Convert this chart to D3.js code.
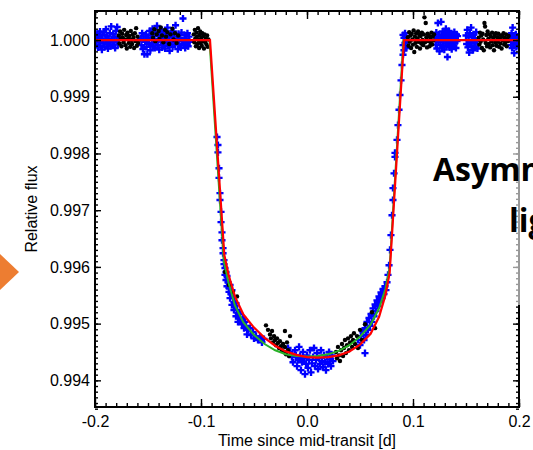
<!DOCTYPE html>
<html>
<head>
<meta charset="utf-8">
<script src="https://cdn.jsdelivr.net/npm/d3@7"></script>
<style>
  html, body { margin: 0; padding: 0; background: #fff; }
  svg { display: block; }
</style>
</head>
<body>
<svg id="chart" width="533" height="450"></svg>
<script>
// Transit photometry: two observing runs (black, blue) and two transit models.
const xTickLabels = ["-0.2", "-0.1", "0.0", "0.1", "0.2"];
const xTickValues = [-0.2, -0.1, 0.0, 0.1, 0.2];
const yTickLabels = ["0.994", "0.995", "0.996", "0.997", "0.998", "0.999", "1.000"];
const yTickValues = [0.994, 0.995, 0.996, 0.997, 0.998, 0.999, 1.000];

// [time since mid-transit (d), relative flux]
const bluePoints = [
  // before ingress
  [-0.1990,1.00004],[-0.1985,0.99992],[-0.1978,1.00011],[-0.1972,0.99987],[-0.1966,1.00006],
  [-0.1960,0.99997],[-0.1953,1.00015],[-0.1947,0.99990],[-0.1941,1.00002],[-0.1935,0.99983],
  [-0.1928,1.00009],[-0.1922,0.99995],[-0.1916,1.00013],[-0.1910,0.99988],[-0.1903,1.00000],
  [-0.1897,1.00019],[-0.1891,0.99993],[-0.1885,1.00007],[-0.1878,0.99985],[-0.1872,1.00003],
  [-0.1866,0.99996],[-0.1860,1.00012],[-0.1853,0.99989],[-0.1847,1.00024],[-0.1841,1.00001],
  [-0.1835,0.99991],[-0.1828,1.00010],[-0.1822,0.99997],[-0.1816,1.00006],[-0.1810,0.99986],
  [-0.1803,1.00016],[-0.1797,0.99999],[-0.1791,1.00023],[-0.1785,0.99992],[-0.1780,1.00005],
  [-0.1570,1.00003],[-0.1562,0.99991],[-0.1555,1.00012],[-0.1548,0.99984],[-0.1541,1.00006],
  [-0.1534,0.99975],[-0.1527,0.99997],[-0.1520,1.00010],[-0.1513,0.99988],[-0.1506,0.99975],
  [-0.1499,1.00004],[-0.1492,0.99993],[-0.1485,1.00016],[-0.1478,0.99982],[-0.1471,1.00008],
  [-0.1464,0.99995],[-0.1457,1.00020],[-0.1450,0.99989],[-0.1443,1.00002],[-0.1436,0.99986],
  [-0.1429,1.00013],[-0.1422,0.99997],[-0.1415,1.00025],[-0.1408,0.99991],[-0.1401,1.00007],
  [-0.1394,0.99983],[-0.1387,1.00011],[-0.1380,0.99999],[-0.1373,1.00018],[-0.1366,0.99987],
  [-0.1359,1.00004],[-0.1352,0.99994],[-0.1345,1.00014],[-0.1338,0.99985],[-0.1331,1.00009],
  [-0.1324,0.99998],[-0.1317,1.00022],[-0.1310,0.99990],[-0.1303,1.00005],[-0.1296,0.99981],
  [-0.1289,1.00012],[-0.1282,0.99996],[-0.1275,1.00008],[-0.1268,0.99988],[-0.1261,1.00015],
  [-0.1254,1.00001],[-0.1247,0.99992],[-0.1240,1.00026],[-0.1233,0.99997],[-0.1226,1.00006],
  [-0.1219,0.99984],[-0.1212,1.00011],[-0.1205,0.99993],[-0.1198,1.00004],[-0.1191,0.99987],
  [-0.1184,1.00013],[-0.1177,0.99998],[-0.1170,1.00038],[-0.1163,0.99991],[-0.1156,1.00009],
  [-0.1149,0.99986],[-0.1142,1.00003],[-0.1135,0.99995],[-0.1128,1.00012],[-0.1121,0.99989],
  [-0.1114,1.00006],[-0.1107,0.99997],
  // ingress
  [-0.0849,0.99829],[-0.0840,0.99815],[-0.0840,0.99802],[-0.0830,0.99774],[-0.0830,0.99757],
  [-0.0821,0.99730],[-0.0821,0.99718],[-0.0811,0.99697],[-0.0811,0.99679],[-0.0802,0.99661],
  [-0.0802,0.99647],[-0.0792,0.99633],[-0.0792,0.99624],[-0.0783,0.99612],[-0.0783,0.99605],
  [-0.0774,0.99598],[-0.0764,0.99591],[-0.0774,0.99586],[-0.0755,0.99584],[-0.0764,0.99577],
  [-0.0745,0.99573],[-0.0755,0.99566],[-0.0736,0.99563],[-0.0726,0.99568],[-0.0736,0.99556],
  [-0.0717,0.99552],[-0.0708,0.99559],[-0.0726,0.99545],[-0.0698,0.99545],[-0.0689,0.99538],
  [-0.0708,0.99533],[-0.0679,0.99531],[-0.0670,0.99536],[-0.0689,0.99524],[-0.0660,0.99524],
  [-0.0651,0.99519],[-0.0670,0.99513],[-0.0642,0.99510],[-0.0632,0.99517],[-0.0623,0.99506],
  [-0.0651,0.99503],[-0.0613,0.99499],[-0.0604,0.99510],[-0.0594,0.99492],[-0.0585,0.99503],
  [-0.0575,0.99496],[-0.0557,0.99489],[-0.0566,0.99481],[-0.0538,0.99492],[-0.0528,0.99480],
  [-0.0509,0.99485],[-0.0500,0.99474],[-0.0481,0.99478],[-0.0462,0.99471],[-0.0443,0.99476],
  [-0.0425,0.99467],[-0.0406,0.99473],
  // transit floor
  [-0.0179,0.99457],[-0.0160,0.99450],[-0.0142,0.99441],[-0.0132,0.99432],[-0.0113,0.99453],
  [-0.0104,0.99444],[-0.0094,0.99425],[-0.0085,0.99436],[-0.0075,0.99459],[-0.0066,0.99443],
  [-0.0057,0.99418],[-0.0047,0.99432],[-0.0038,0.99450],[-0.0028,0.99439],[-0.0019,0.99411],
  [-0.0009,0.99429],[0.0000,0.99444],[0.0009,0.99422],[0.0019,0.99436],[0.0028,0.99453],
  [0.0038,0.99414],[0.0047,0.99430],[0.0057,0.99441],[0.0066,0.99457],[0.0075,0.99425],
  [0.0085,0.99436],[0.0094,0.99448],[0.0104,0.99420],[0.0113,0.99439],[0.0123,0.99429],
  [0.0132,0.99453],[0.0142,0.99434],[0.0151,0.99423],[0.0160,0.99444],[0.0170,0.99432],
  [0.0179,0.99418],[0.0189,0.99441],[0.0198,0.99429],[0.0208,0.99450],[0.0217,0.99437],
  [0.0226,0.99425],[0.0236,0.99444],[0.0245,0.99434],
  // egress
  [0.0481,0.99471],[0.0500,0.99462],[0.0509,0.99478],[0.0528,0.99485],[0.0538,0.99471],
  [0.0547,0.99492],[0.0557,0.99480],[0.0566,0.99503],[0.0575,0.99489],[0.0585,0.99510],
  [0.0594,0.99496],[0.0604,0.99517],[0.0613,0.99503],[0.0623,0.99527],[0.0632,0.99513],
  [0.0642,0.99534],[0.0651,0.99522],[0.0660,0.99541],[0.0670,0.99531],[0.0679,0.99548],
  [0.0689,0.99538],[0.0698,0.99555],[0.0708,0.99545],[0.0717,0.99561],[0.0726,0.99552],
  [0.0736,0.99566],[0.0745,0.99559],[0.0755,0.99573],[0.0764,0.99586],[0.0547,0.99448],
  [0.0774,0.99603],[0.0783,0.99630],[0.0792,0.99656],[0.0802,0.99691],[0.0811,0.99718],
  [0.0811,0.99739],[0.0821,0.99765],[0.0830,0.99794],[0.0830,0.99801],[0.0849,0.99824],
  [0.0858,0.99850],[0.0868,0.99877],[0.0877,0.99903],[0.0887,0.99929],[0.0896,0.99956],
  [0.0906,0.99974],[0.0906,0.99991],[0.0915,1.00004],[0.0915,0.99982],[0.0925,1.00012],
  [0.0925,0.99995],[0.0934,1.00007],[0.0934,0.99986],[0.0943,1.00000],[0.0906,1.00009],
  // after egress
  [0.1210,1.00006],[0.1215,0.99992],[0.1220,1.00013],[0.1225,0.99985],[0.1230,1.00002],
  [0.1235,1.00030],[0.1240,0.99996],[0.1245,1.00010],[0.1250,0.99980],[0.1255,1.00004],
  [0.1260,0.99991],[0.1265,1.00032],[0.1270,1.00008],[0.1275,0.99987],[0.1280,1.00015],
  [0.1285,0.99998],[0.1290,1.00005],[0.1295,0.99983],[0.1300,1.00012],[0.1305,0.99994],
  [0.1310,1.00020],[0.1315,0.99989],[0.1320,1.00003],[0.1325,0.99970],[0.1330,1.00009],
  [0.1335,0.99996],[0.1340,1.00016],[0.1345,0.99987],[0.1350,1.00006],[0.1355,0.99993],
  [0.1360,1.00011],[0.1365,0.99984],[0.1370,1.00002],[0.1375,0.99997],[0.1380,1.00009],
  [0.1385,0.99990],[0.1390,1.00014],[0.1395,0.99995],[0.1400,1.00004],[0.1405,0.99986],
  [0.1410,1.00010],[0.1415,0.99998],[0.1420,1.00007],
  [0.1500,1.00008],[0.1506,0.99993],[0.1512,1.00018],[0.1518,0.99987],[0.1524,1.00005],
  [0.1530,0.99978],[0.1536,1.00012],[0.1542,0.99996],[0.1548,1.00022],[0.1554,0.99990],
  [0.1560,1.00007],[0.1566,0.99982],[0.1572,1.00010],[0.1578,0.99995],[0.1584,1.00003],
  [0.1590,0.99988],[0.1596,1.00014],[0.1602,0.99998],[0.1608,0.99985],
  [0.1920,1.00005],[0.1925,0.99991],[0.1930,1.00012],[0.1935,0.99986],[0.1940,1.00022],
  [0.1945,0.99998],[0.1950,1.00008],[0.1955,0.99977],[0.1960,1.00003],[0.1965,0.99993],
  [0.1970,1.00010],[0.1975,0.99988],[0.1980,1.00001],[0.1985,0.99996],[0.1990,1.00006],
  [0.1995,0.99990]
];

const blackPoints = [
  // before ingress
  [-0.1775,1.00008],[-0.1769,0.99994],[-0.1763,1.00015],[-0.1757,1.00002],[-0.1750,0.99989],
  [-0.1744,1.00011],[-0.1738,1.00004],[-0.1731,0.99996],[-0.1725,1.00018],[-0.1719,1.00001],
  [-0.1712,0.99991],[-0.1706,1.00009],[-0.1700,0.99985],[-0.1694,1.00013],[-0.1687,1.00003],
  [-0.1681,0.99995],[-0.1675,1.00007],[-0.1668,0.99988],[-0.1662,1.00016],[-0.1656,1.00000],
  [-0.1650,0.99993],[-0.1643,1.00010],[-0.1637,1.00004],[-0.1631,0.99986],[-0.1624,1.00012],
  [-0.1618,0.99998],[-0.1612,1.00021],[-0.1605,0.99990],[-0.1599,1.00006],[-0.1593,0.99995],
  [-0.1460,1.00012],[-0.1452,1.00004],[-0.1440,1.00019],[-0.1431,0.99998],[-0.1418,1.00010],
  [-0.1400,1.00016],[-0.1392,1.00002],[-0.1380,1.00022],[-0.1368,1.00008],[-0.1355,0.99996],
  [-0.1340,1.00018],[-0.1330,1.00006],[-0.1318,1.00014],[-0.1300,0.99993],[-0.1288,1.00010],
  [-0.1270,1.00020],[-0.1258,1.00001],[-0.1245,1.00012],[-0.1230,0.99995],[-0.1215,1.00008],
  [-0.1068,1.00010],[-0.1063,0.99996],[-0.1058,1.00018],[-0.1053,1.00003],[-0.1048,0.99989],
  [-0.1043,1.00013],[-0.1038,1.00006],[-0.1033,0.99993],[-0.1028,1.00021],[-0.1023,1.00000],
  [-0.1018,0.99986],[-0.1013,1.00009],[-0.1008,1.00015],[-0.1003,0.99995],[-0.0998,1.00004],
  [-0.0993,0.99990],[-0.0988,1.00012],[-0.0983,0.99998],[-0.0978,1.00007],[-0.0972,0.99985],
  [-0.0966,1.00010],[-0.0960,0.99996],[-0.0954,1.00003],[-0.0948,0.99992],[-0.0942,1.00008],
  [-0.0936,0.99988],[-0.0930,1.00001],
  // in transit
  [-0.0774,0.99591],[-0.0736,0.99568],[-0.0698,0.99556],[-0.0660,0.99548],
  [-0.0387,0.99497],[-0.0368,0.99489],[-0.0349,0.99481],[-0.0340,0.99474],[-0.0330,0.99487],
  [-0.0321,0.99467],[-0.0311,0.99478],[-0.0302,0.99471],[-0.0292,0.99462],[-0.0283,0.99474],
  [-0.0274,0.99466],[-0.0264,0.99457],[-0.0255,0.99469],[-0.0245,0.99460],[-0.0236,0.99453],
  [-0.0226,0.99464],[-0.0217,0.99450],[-0.0208,0.99487],[-0.0208,0.99459],[-0.0198,0.99446],
  [-0.0189,0.99467],[-0.0179,0.99453],[-0.0170,0.99443],[-0.0160,0.99478],
  [0.0274,0.99450],[0.0283,0.99439],[0.0292,0.99459],[0.0302,0.99444],[0.0311,0.99434],
  [0.0321,0.99453],[0.0330,0.99464],[0.0340,0.99443],[0.0349,0.99457],[0.0358,0.99471],
  [0.0368,0.99448],[0.0377,0.99462],[0.0387,0.99474],[0.0396,0.99453],[0.0406,0.99467],
  [0.0415,0.99478],[0.0425,0.99459],[0.0434,0.99471],[0.0443,0.99483],[0.0453,0.99464],
  [0.0472,0.99478],[0.0481,0.99457],[0.0500,0.99489],[0.0519,0.99471],[0.0547,0.99499],
  [0.0613,0.99520],[0.0642,0.99492],
  // after egress
  [0.0952,1.00005],[0.0958,0.99990],[0.0964,1.00014],[0.0970,0.99997],[0.0976,1.00008],
  [0.0982,0.99986],[0.0988,1.00011],[0.0994,1.00001],[0.1000,0.99992],[0.1006,1.00017],
  [0.1012,0.99979],[0.1018,1.00006],[0.1024,0.99995],[0.1030,1.00012],[0.1036,0.99988],
  [0.1042,1.00003],[0.1048,1.00015],[0.1054,0.99997],[0.1060,1.00009],[0.1066,0.99985],
  [0.1072,1.00007],[0.1078,0.99994],[0.1084,1.00013],[0.1090,1.00000],[0.1096,0.99991],
  [0.1102,1.00010],[0.1108,1.00040],[0.1114,0.99996],[0.1120,1.00030],[0.1126,1.00005],
  [0.1132,0.99987],[0.1138,1.00011],[0.1144,0.99998],[0.1150,1.00008],[0.1156,0.99989],
  [0.1162,1.00004],[0.1168,0.99995],[0.1174,1.00013],[0.1180,0.99992],[0.1186,1.00006],
  [0.1192,0.99999],[0.1198,1.00010],
  [0.1620,1.00004],[0.1626,0.99992],[0.1632,1.00013],[0.1638,0.99997],[0.1644,1.00008],
  [0.1650,0.99986],[0.1656,1.00011],[0.1662,1.00001],[0.1668,0.99982],[0.1674,1.00030],
  [0.1680,1.00024],[0.1686,0.99995],[0.1692,1.00009],[0.1698,0.99989],[0.1704,1.00015],
  [0.1710,1.00002],[0.1716,0.99993],[0.1722,1.00010],[0.1728,0.99987],[0.1734,1.00006],
  [0.1740,0.99998],[0.1746,1.00013],[0.1752,0.99991],[0.1758,1.00004],[0.1764,0.99982],
  [0.1770,1.00009],[0.1776,0.99996],[0.1782,1.00012],[0.1788,0.99990],[0.1794,1.00005],
  [0.1800,0.99997],[0.1806,1.00011],[0.1812,0.99988],[0.1818,1.00003],[0.1824,0.99994],
  [0.1830,1.00008],[0.1836,0.99985],[0.1842,1.00006],[0.1848,0.99999],[0.1854,1.00012],
  [0.1860,0.99992],[0.1866,1.00004],[0.1872,0.99996],[0.1878,1.00010],[0.1884,0.99989],
  [0.1890,1.00003],[0.1896,0.99998],[0.1902,1.00007]
];

// Model light curves sampled in time
const symModelTime = [-0.2, -0.0915, -0.078, -0.074, -0.068, -0.06, -0.05, -0.04, -0.03, -0.02, -0.01, 0, 0.01, 0.02, 0.03, 0.04, 0.05, 0.06, 0.068, 0.074, 0.078, 0.0915, 0.2];
const symModelFlux = [1, 1, 0.99621, 0.99586, 0.99548, 0.99516, 0.99493, 0.99475, 0.99461, 0.99451, 0.99445, 0.99441, 0.99440, 0.99441, 0.99444, 0.99451, 0.99463, 0.99482, 0.99512, 0.99550, 0.99590, 1, 1];
const asymModelTime = [-0.2, -0.092, -0.0785, -0.074, -0.068, -0.06, -0.05, -0.04, -0.03, -0.02, -0.01, 0, 0.01, 0.02, 0.03, 0.04, 0.05, 0.06, 0.068, 0.074, 0.078, 0.091, 0.2];
const asymModelFlux = [1, 1, 0.99610, 0.99572, 0.99532, 0.99502, 0.99480, 0.99464, 0.99453, 0.99446, 0.99443, 0.99442, 0.99443, 0.99446, 0.99452, 0.99462, 0.99477, 0.99498, 0.99527, 0.99561, 0.99600, 1, 1];

const overlayLines = ["Asymmetric", "light curves"];

const svg = d3.select("#chart");
const plotLeft = 95, plotRight = 519, plotTop = 11, plotBottom = 407;

const x = d3.scaleLinear().domain([-0.2, 0.2]).range([plotLeft, plotRight]);
const y = d3.scaleLinear().domain([0.99353, 1.000512]).range([plotBottom, plotTop]);

svg.append("defs").append("clipPath").attr("id", "plotClip")
  .append("rect").attr("x", plotLeft).attr("y", plotTop)
  .attr("width", plotRight - plotLeft).attr("height", plotBottom - plotTop);

const plot = svg.append("g").attr("clip-path", "url(#plotClip)");

// data points
plot.append("g").selectAll("path").data(bluePoints).join("path")
  .attr("transform", d => `translate(${x(d[0])},${y(d[1])})`)
  .attr("d", d3.symbol(d3.symbolCross, 28))
  .attr("fill", "#0000ff");

plot.append("g").selectAll("circle").data(blackPoints).join("circle")
  .attr("cx", d => x(d[0])).attr("cy", d => y(d[1])).attr("r", 2.2)
  .attr("fill", "#000");

// models
const line = d3.line().x(d => x(d[0])).y(d => y(d[1]));
plot.append("path")
  .datum(asymModelTime.map((t, i) => [t, asymModelFlux[i]]))
  .attr("d", line).attr("fill", "none").attr("stroke", "#28b228").attr("stroke-width", 2);
plot.append("path")
  .datum(symModelTime.map((t, i) => [t, symModelFlux[i]]))
  .attr("d", line).attr("fill", "none").attr("stroke", "#ff0000").attr("stroke-width", 2.2);

// axes with inward ticks on all four sides
const xMinor = d3.range(-20, 21).map(i => i / 100);
const yMinor = d3.range(9935, 10006).map(i => i / 10000);
const fontFam = "'Liberation Sans', Arial, Helvetica, sans-serif";

function styleAxis(g) {
  g.select(".domain").remove();
  g.selectAll("line").attr("stroke", "#000").attr("stroke-width", 1.4);
}

svg.append("g").attr("transform", `translate(0,${plotBottom})`)
  .call(d3.axisBottom(x).tickValues(xMinor).tickSize(-4).tickFormat(""))
  .call(styleAxis);
svg.append("g").attr("transform", `translate(0,${plotTop})`)
  .call(d3.axisTop(x).tickValues(xMinor).tickSize(-4).tickFormat(""))
  .call(styleAxis);
svg.append("g").attr("transform", `translate(0,${plotBottom})`)
  .call(d3.axisBottom(x).tickValues(xTickValues).tickSize(-8).tickPadding(9)
    .tickFormat((d, i) => xTickLabels[i]))
  .call(styleAxis)
  .call(g => g.selectAll("text").attr("font-size", 16).attr("font-family", fontFam).attr("fill", "#000"));
svg.append("g").attr("transform", `translate(0,${plotTop})`)
  .call(d3.axisTop(x).tickValues(xTickValues).tickSize(-8).tickFormat(""))
  .call(styleAxis);

svg.append("g").attr("transform", `translate(${plotLeft},0)`)
  .call(d3.axisLeft(y).tickValues(yMinor).tickSize(-3).tickFormat(""))
  .call(styleAxis);
svg.append("g").attr("transform", `translate(${plotRight},0)`)
  .call(d3.axisRight(y).tickValues(yMinor).tickSize(-3).tickFormat(""))
  .call(styleAxis);
svg.append("g").attr("transform", `translate(${plotLeft},0)`)
  .call(d3.axisLeft(y).tickValues(yTickValues).tickSize(-6).tickPadding(5)
    .tickFormat((d, i) => yTickLabels[i]))
  .call(styleAxis)
  .call(g => g.selectAll("text").attr("font-size", 16).attr("font-family", fontFam).attr("fill", "#000"));
svg.append("g").attr("transform", `translate(${plotRight},0)`)
  .call(d3.axisRight(y).tickValues(yTickValues).tickSize(-6).tickFormat(""))
  .call(styleAxis);

// frame
svg.append("rect").attr("x", plotLeft).attr("y", plotTop)
  .attr("width", plotRight - plotLeft).attr("height", plotBottom - plotTop)
  .attr("fill", "none").attr("stroke", "#000").attr("stroke-width", 2);

// axis titles
svg.append("text").attr("x", (plotLeft + plotRight) / 2).attr("y", 446)
  .attr("text-anchor", "middle").attr("font-size", 16).attr("font-family", fontFam)
  .text("Time since mid-transit [d]");
svg.append("text").attr("transform", "translate(37,209) rotate(-90)")
  .attr("text-anchor", "middle").attr("font-size", 16).attr("font-family", fontFam)
  .text("Relative flux");

// slide overlay: caption box and arrow
svg.append("rect").attr("x", 428).attr("y", 100).attr("width", 105).attr("height", 205)
  .attr("fill", "#fff").attr("opacity", 0.6);
const caption = svg.append("text").attr("font-family", "'Open Sans', Lato, sans-serif")
  .attr("font-weight", "bold").attr("font-size", 32).attr("fill", "#000");
caption.append("tspan").attr("x", 433).attr("y", 181).text(overlayLines[0]);
caption.append("tspan").attr("x", 509).attr("y", 232).text(overlayLines[1]);

svg.append("path").attr("d", "M0,254 L19,272 L0,290 Z").attr("fill", "#ED7D31");
</script>
</body>
</html>
